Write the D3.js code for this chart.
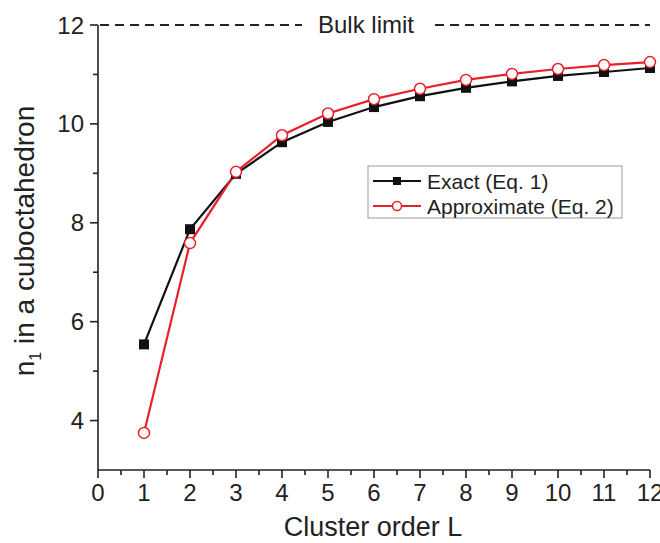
<!DOCTYPE html>
<html><head><meta charset="utf-8">
<script src="https://cdn.jsdelivr.net/npm/d3@7"></script>
<style>body{margin:0;background:#fff}svg{display:block}text{font-family:"Liberation Sans",Arial,sans-serif;fill:#222}</style>
</head><body><div id="c"></div>
<script>
const clusterOrder = [1,2,3,4,5,6,7,8,9,10,11,12];
const exactValues = [5.54,7.87,8.99,9.63,10.04,10.34,10.56,10.73,10.86,10.97,11.05,11.13];
const approxValues = [3.75,7.59,9.03,9.77,10.21,10.50,10.71,10.89,11.01,11.11,11.19,11.25];
const xTicks = [0,1,2,3,4,5,6,7,8,9,10,11,12];
const xMinorTicks = [0.5,1.5,2.5,3.5,4.5,5.5,6.5,7.5,8.5,9.5,10.5,11.5];
const yTicks = [4,6,8,10,12];
const yMinorTicks = [5,7,9,11];
const bulkLimit = 12;
const seriesNames = ["Exact (Eq. 1)","Approximate (Eq. 2)"];

const W=660,H=543;
const svg=d3.select("#c").append("svg").attr("width",W).attr("height",H);
const x=d3.scaleLinear().domain([0,12]).range([98,650]);
const y=d3.scaleLinear().domain([3,12]).range([470,25]);
const red="#e8202a";
const ax="#222";

// axis lines
const x0=x.range()[0], yb=y.range()[0];
svg.append("line").attr("x1",x0).attr("x2",x(12)).attr("y1",yb).attr("y2",yb).attr("stroke",ax).attr("stroke-width",1.6);
svg.append("line").attr("x1",x0).attr("x2",x0).attr("y1",yb).attr("y2",y(12)).attr("stroke",ax).attr("stroke-width",1.6);
// ticks
svg.selectAll(".xt").data(xTicks).enter().append("line")
  .attr("x1",d=>x(d)).attr("x2",d=>x(d)).attr("y1",yb).attr("y2",yb+8).attr("stroke",ax).attr("stroke-width",1.6);
svg.selectAll(".xmt").data(xMinorTicks).enter().append("line")
  .attr("x1",d=>x(d)).attr("x2",d=>x(d)).attr("y1",yb).attr("y2",yb+5).attr("stroke",ax).attr("stroke-width",1.6);
svg.selectAll(".yt").data(yTicks).enter().append("line")
  .attr("x1",x0-8).attr("x2",x0).attr("y1",d=>y(d)).attr("y2",d=>y(d)).attr("stroke",ax).attr("stroke-width",1.6);
svg.selectAll(".ymt").data(yMinorTicks).enter().append("line")
  .attr("x1",x0-5).attr("x2",x0).attr("y1",d=>y(d)).attr("y2",d=>y(d)).attr("stroke",ax).attr("stroke-width",1.6);
// tick labels
svg.selectAll(".xl").data(xTicks).enter().append("text")
  .attr("x",d=>x(d)).attr("y",yb+31).attr("text-anchor","middle").style("font-size","24px").text(d=>d);
svg.selectAll(".yl").data(yTicks).enter().append("text")
  .attr("x",x0-14).attr("y",d=>y(d)+8.5).attr("text-anchor","end").style("font-size","24px").text(d=>d);

// bulk limit
const by=y(bulkLimit);
svg.append("line").attr("x1",x0+2).attr("x2",302).attr("y1",by).attr("y2",by)
  .attr("stroke",ax).attr("stroke-width",2).attr("stroke-dasharray","9,6");
svg.append("line").attr("x1",435).attr("x2",x(12)).attr("y1",by).attr("y2",by)
  .attr("stroke",ax).attr("stroke-width",2).attr("stroke-dasharray","9,6");
svg.append("text").attr("x",366).attr("y",by+8).attr("text-anchor","middle")
  .style("font-size","24px").text("Bulk limit");

// lines
const line=d3.line().x((d,i)=>x(clusterOrder[i])).y(d=>y(d));
svg.append("path").datum(exactValues).attr("d",line).attr("fill","none").attr("stroke","#111").attr("stroke-width",2.2);
svg.append("path").datum(approxValues).attr("d",line).attr("fill","none").attr("stroke",red).attr("stroke-width",2.2);
svg.selectAll(".sq").data(exactValues).enter().append("rect")
  .attr("x",(d,i)=>x(clusterOrder[i])-5).attr("y",d=>y(d)-5).attr("width",10).attr("height",10).attr("fill","#111");
svg.selectAll(".ci").data(approxValues).enter().append("circle")
  .attr("cx",(d,i)=>x(clusterOrder[i])).attr("cy",d=>y(d)).attr("r",5.5)
  .attr("fill","#fff").attr("stroke",red).attr("stroke-width",1.5);

// legend
const lg=svg.append("g");
lg.append("rect").attr("x",368).attr("y",166).attr("width",254).attr("height",52)
  .attr("fill","#fff").attr("stroke","#999").attr("stroke-width",1);
[[181,"#111","sq"],[206,red,"ci"]].forEach(([ly,c,m],i)=>{
  lg.append("line").attr("x1",373).attr("x2",421).attr("y1",ly).attr("y2",ly).attr("stroke",c).attr("stroke-width",2.2);
  if(m==="sq") lg.append("rect").attr("x",393).attr("y",ly-4).attr("width",8).attr("height",8).attr("fill","#111");
  else lg.append("circle").attr("cx",397).attr("cy",ly).attr("r",4.5).attr("fill","#fff").attr("stroke",c).attr("stroke-width",1.5);
  lg.append("text").attr("x",427).attr("y",ly+8).style("font-size","21px").text(seriesNames[i]);
});

// axis titles
svg.append("text").attr("x",373).attr("y",536).attr("text-anchor","middle").style("font-size","27px").text("Cluster order L");
const yt=svg.append("text").attr("transform","translate(34,241) rotate(-90)").attr("text-anchor","middle").style("font-size","28px");
yt.append("tspan").text("n");
yt.append("tspan").attr("dy",7).style("font-size","16px").text("1");
yt.append("tspan").attr("dy",-7).text(" in a cuboctahedron");
</script></body></html>
